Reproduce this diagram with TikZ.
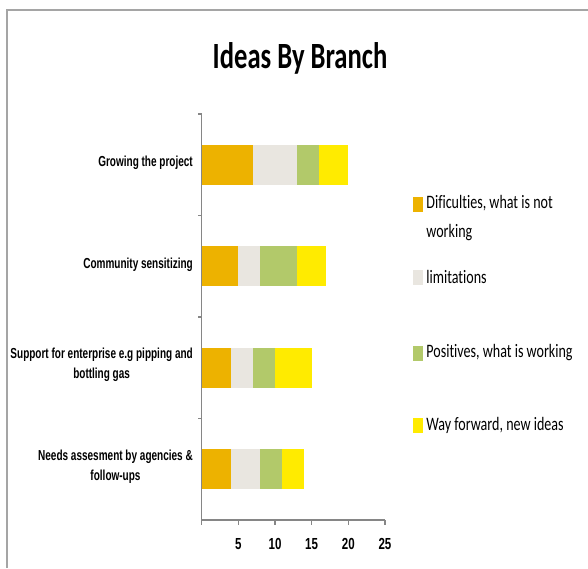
\documentclass[tikz,border=0pt]{standalone}
\usepackage{graphicx}
\usepackage{fontspec}
\setmainfont{Liberation Sans}
\newfontfamily\titlefont[Ligatures=NoCommon]{Carlito}
\usetikzlibrary{positioning}

\definecolor{difc}{RGB}{237,178,0}
\definecolor{limc}{RGB}{233,230,224}
\definecolor{posc}{RGB}{178,201,106}
\definecolor{wayc}{RGB}{255,235,0}
\definecolor{axisc}{RGB}{134,134,134}
\definecolor{framec}{RGB}{165,165,165}

% condensed text, the chart is squeezed sideways
\newcommand{\narrow}[1]{\scalebox{0.72}[1]{#1}}
\newcommand{\catnarrow}[1]{\scalebox{0.69}[1]{#1}}
\newcommand{\legnarrow}[1]{\scalebox{0.74}[1]{#1}}

\tikzset{
    catlabel/.style = {anchor=east, align=center, inner sep=0pt,
                       font=\bfseries\fontsize{14.5}{20}\selectfont},
    ticklabel/.style = {anchor=north, inner sep=0pt,
                        font=\bfseries\fontsize{16}{16}\selectfont},
    legtext/.style = {anchor=west, align=left, inner sep=0pt,
                      font=\titlefont\fontsize{19}{29}\selectfont},
    legkey/.style = {minimum width=10pt, minimum height=15pt, inner sep=0pt}
}

\begin{document}
\begin{tikzpicture}[x=1pt, y=-1pt]
    \useasboundingbox (0,0) rectangle (588,568);
    \fill [white] (0,0) rectangle (588,568);

    % frame
    \draw [framec, line width=2pt] (6.5,568) -- (6.5,10) -- (588,10);

    % title
    \node (title) at (300,58) {\titlefont\bfseries\fontsize{37}{37}\selectfont\narrow{Ideas By Branch}};

    % bars
    \begin{scope}[shift={(201.7,0)}, x=7.33pt]
        \foreach \yc/\a/\b/\c/\d in {164.75/7/13/16/20, 266.25/5/8/13/17,
                                     367.75/4/7/10/15, 469.25/4/8/11/14}{
            \fill [difc] (0,\yc-20) rectangle (\a,\yc+20);
            \fill [limc] (\a,\yc-20) rectangle (\b,\yc+20);
            \fill [posc] (\b,\yc-20) rectangle (\c,\yc+20);
            \fill [wayc] (\c,\yc-20) rectangle (\d,\yc+20);
        }

        % axes
        \draw [axisc, line width=1.5pt] (0,114) -- (0,520) -- (25,520);
        \foreach \t in {0,5,...,25}
            \draw [axisc, line width=1.2pt] (\t,520) -- (\t,525);
        \foreach \ty in {114,215.5,317,418.5}
            \draw [axisc, line width=1.2pt] (-0.5,\ty) -- (0,\ty);
        \foreach \t in {5,10,15,20,25}
            \node [ticklabel] (tick\t) at (\t,538) {\narrow{\t}};
    \end{scope}

    % category labels
    \node [catlabel] (grow) at (193,163) {\catnarrow{Growing the project}};
    \node [catlabel] (comm) at (193,265) {\catnarrow{Community sensitizing}};
    \node [catlabel] (supp) at (193,365) {\catnarrow{Support for enterprise e.g pipping and}\\\catnarrow{bottling gas}};
    \node [catlabel] (need) at (193,467) {\catnarrow{Needs assesment by agencies \&}\\\catnarrow{follow-ups}};

    % legend
    \node [legkey, fill=difc] (kdif) at (418,204.5) {};
    \node [legtext, right=3pt of kdif.east, anchor=north west, yshift=9pt] (tdif)
        {\legnarrow{Dificulties, what is not}\\\legnarrow{working}};
    \node [legkey, fill=limc] (klim) at (418,277) {};
    \node [legtext, right=3pt of klim] (tlim) {\legnarrow{limitations}};
    \node [legkey, fill=posc] (kpos) at (418,353) {};
    \node [legtext, right=3pt of kpos] (tpos) {\legnarrow{Positives, what is working}};
    \node [legkey, fill=wayc] (kway) at (418,425) {};
    \node [legtext, right=3pt of kway] (tway) {\legnarrow{Way forward, new ideas}};
\end{tikzpicture}
\end{document}
